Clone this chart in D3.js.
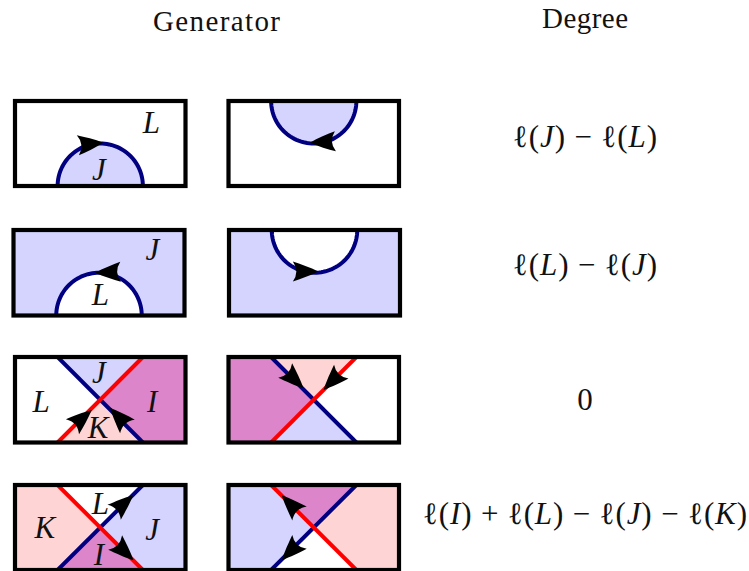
<!DOCTYPE html>
<html>
<head>
<meta charset="utf-8">
<script src="https://cdn.jsdelivr.net/npm/d3@7"></script>
<style>
    body { margin: 0; background: #fff; }
    text { font-family: "Liberation Serif", "DejaVu Serif", serif; fill: #111; }
</style>
</head>
<body>
<div id="chart"></div>
<script>
// Column titles and the degree formula of each row
const headers = ['Generator', 'Degree'];
const degrees = ['ℓ(J) − ℓ(L)', 'ℓ(L) − ℓ(J)', '0', 'ℓ(I) + ℓ(L) − ℓ(J) − ℓ(K)'];

// Regions: [inside, outside] of the half circle, for rows 1 and 2
const arcRegions = [['J', 'L'], ['L', 'J']];
// Regions [left, top, right, bottom] of the crossing, for rows 3 and 4 (left and right panel)
const crossRegions = [
    [['L', 'J', 'I', 'K'], ['I', 'K', 'L', 'J']],
    [['K', 'L', 'J', 'I'], ['J', 'I', 'K', 'L']]
];

// Arrow tips [x, y, direction] in panel units, per row, per panel
const arrowsByRow = [
    [[[2.07, 1.02, -6]], [[1.91, 1.02, 177]]],
    [[[1.91, 1.0, 178]], [[2.09, 1.03, 0]]],
    [[[1.80, 0.76, -41], [2.23, 0.81, -133]], [[1.76, 1.27, 44], [2.23, 1.23, 134]]],
    [[[2.77, 1.76, -42], [2.78, 0.23, 44]], [[1.25, 1.76, -134], [1.25, 0.23, 134]]]
];

// Region letters [text, x, y] in panel units, left panel of each row
const lettersByRow = [
    [['L', 3.2, 1.5], ['J', 1.97, 0.38]],
    [['J', 3.25, 1.54], ['L', 2.03, 0.5]],
    [['L', 0.61, 0.97], ['J', 1.97, 1.63], ['I', 3.22, 0.97], ['K', 1.95, 0.36]],
    [['K', 0.7, 0.99], ['L', 2, 1.57], ['J', 3.22, 0.96], ['I', 1.97, 0.37]]
];

const width = 749, height = 571;

// Panel boxes, the picture is not quite regular
const rowBoxes = [
    { top: 101, bottom: 186, left: [15, 185.5], right: [228.5, 399], formula: 147, span: 144 },
    { top: 230, bottom: 315.5, left: [13.5, 184.5], right: [229, 400], formula: 275, span: 144 },
    { top: 357, bottom: 442.5, left: [15, 185.5], right: [228.5, 399], formula: 410, span: 14 },
    { top: 485, bottom: 570, left: [15, 185.5], right: [228.5, 399], formula: 524, span: 324 }
];

const colors = { L: '#ffffff', J: '#d4d4ff', K: '#ffd4d4', I: '#dd85cb' };
const navy = '#000080', red = '#ff0000';

const svg = d3.select('#chart').append('svg')
    .attr('width', width)
    .attr('height', height);

const clipCount = { n: 0 };

function drawPanel(box, xRange, drawContent) {
    const x = d3.scaleLinear().domain([0, 4]).range(xRange);
    const y = d3.scaleLinear().domain([0, 2]).range([box.bottom, box.top]);
    const id = 'clip' + (clipCount.n++);

    svg.append('clipPath').attr('id', id)
        .append('rect')
        .attr('x', x(0)).attr('y', y(2))
        .attr('width', x(4) - x(0)).attr('height', y(0) - y(2));

    const g = svg.append('g');
    const inner = g.append('g').attr('clip-path', `url(#${id})`);
    drawContent(inner, x, y);

    // frame goes on top of line ends
    g.append('rect')
        .attr('x', x(0)).attr('y', y(2))
        .attr('width', x(4) - x(0)).attr('height', y(0) - y(2))
        .attr('fill', 'none')
        .attr('stroke', '#000')
        .attr('stroke-width', 4.2);
    return { g, x, y };
}

// Half circle panel, the arc sits on the bottom (left panel) or top (right panel) edge
function drawArc(regions, bump) {
    return function(g, x, y) {
        const line = d3.line().x(d => x(d[0])).y(d => y(d[1]));
        g.append('rect')
            .attr('x', x(0)).attr('y', y(2))
            .attr('width', x(4) - x(0)).attr('height', y(0) - y(2))
            .attr('fill', colors[regions[1]]);
        const points = d3.range(0, 181, 3).map(a => {
            const t = a * Math.PI / 180;
            const dy = Math.sin(t);
            return [2 - Math.cos(t), bump === 'bottom' ? dy : 2 - dy];
        });
        g.append('path')
            .attr('d', line(points))
            .attr('fill', colors[regions[0]])
            .attr('stroke', navy)
            .attr('stroke-width', 4);
    };
}

// Crossing panel: two diagonals, first colour runs from top left to bottom right
function drawCross(regions, falling, rising) {
    return function(g, x, y) {
        const line = d3.line().x(d => x(d[0])).y(d => y(d[1]));
        const quadrants = [
            [[0, 0], [1, 0], [2, 1], [1, 2], [0, 2]],
            [[1, 2], [2, 1], [3, 2]],
            [[4, 0], [3, 0], [2, 1], [3, 2], [4, 2]],
            [[1, 0], [2, 1], [3, 0]]
        ];
        g.selectAll('path.region')
            .data(quadrants)
            .join('path')
            .attr('class', 'region')
            .attr('d', d => line(d) + 'Z')
            .attr('fill', (d, i) => colors[regions[i]]);
        const strokes = [
            { pts: [[1, 2], [3, 0]], color: falling },
            { pts: [[1, 0], [3, 2]], color: rising }
        ];
        // red line is the upper one
        strokes.sort((a, b) => (a.color === red) - (b.color === red));
        g.selectAll('path.edge')
            .data(strokes)
            .join('path')
            .attr('class', 'edge')
            .attr('d', d => line(d.pts))
            .attr('fill', 'none')
            .attr('stroke', d => d.color)
            .attr('stroke-width', 4);
    };
}

function drawArrows(panel, arrows) {
    panel.g.selectAll('path.arrow')
        .data(arrows)
        .join('path')
        .attr('class', 'arrow')
        .attr('d', 'M0 0C-8 -4 -18 -7.5 -25.5 -10Q-22 -5 -22 0Q-22 5 -25.5 10C-18 7.5 -8 4 0 0Z')
        .attr('transform', d => `translate(${panel.x(d[0])},${panel.y(d[1])}) rotate(${d[2]})`)
        .attr('fill', '#000');
}

rowBoxes.forEach((box, row) => {
    const sides = ['left', 'right'];
    const panels = sides.map((side, s) => {
        let content;
        if (row < 2) {
            content = drawArc(arcRegions[row], s === 0 ? 'bottom' : 'top');
        } else {
            content = row === 2 ? drawCross(crossRegions[0][s], navy, red) : drawCross(crossRegions[1][s], red, navy);
        }
        const panel = drawPanel(box, box[side], content);
        drawArrows(panel, arrowsByRow[row][s]);
        return panel;
    });

    panels[0].g.selectAll('text.letter')
        .data(lettersByRow[row])
        .join('text')
        .attr('class', 'letter')
        .attr('x', d => panels[0].x(d[1]))
        .attr('y', d => panels[0].y(d[2]))
        .attr('dy', '0.34em')
        .attr('text-anchor', 'middle')
        .attr('font-style', 'italic')
        .attr('font-size', 31)
        .text(d => d[0]);

    // Degree formula, capital letters in italics
    const formula = svg.append('text')
        .attr('x', 585)
        .attr('y', box.formula)
        .attr('text-anchor', 'middle')
        .attr('font-size', 31)
        .attr('textLength', box.span)
        .attr('lengthAdjust', 'spacing');
    degrees[row].split(/([A-Z])/).forEach(part => {
        formula.append('tspan')
            .attr('font-style', /^[A-Z]$/.test(part) ? 'italic' : 'normal')
            .text(part);
    });
});

svg.selectAll('text.header')
    .data(headers)
    .join('text')
    .attr('class', 'header')
    .attr('x', (d, i) => i === 0 ? 216.5 : 585)
    .attr('y', (d, i) => i === 0 ? 31 : 28)
    .attr('text-anchor', 'middle')
    .attr('font-size', 29)
    .attr('textLength', (d, i) => i === 0 ? 127 : 86)
    .attr('lengthAdjust', 'spacing')
    .text(d => d);
</script>
</body>
</html>
